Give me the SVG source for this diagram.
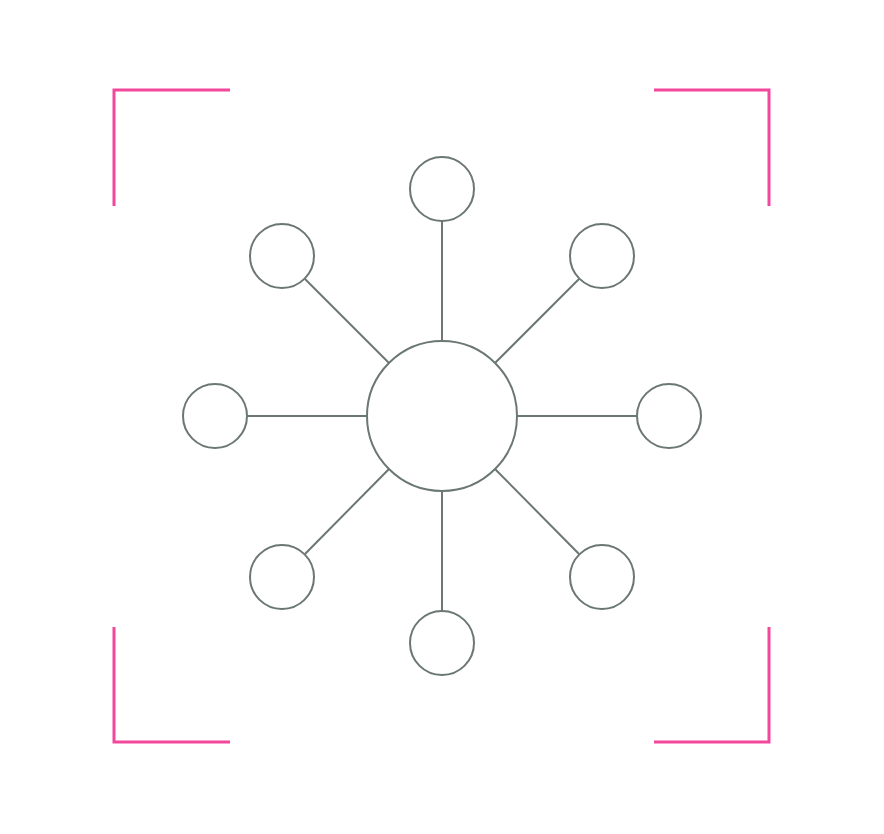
<svg xmlns="http://www.w3.org/2000/svg" width="884" height="834" viewBox="0 0 884 834">
<style>
.n{fill:#fff;stroke:#6b7773;stroke-width:2}
.e{stroke:#6b7773;stroke-width:2;fill:none}
.c{stroke:#f2479b;stroke-width:3;fill:none}
</style>
<rect width="884" height="834" fill="#fff"/>
<g id="corners">
<path class="c" d="M114,206V90H230"/>
<path class="c" d="M654,90H769V206"/>
<path class="c" d="M114,627V742H230"/>
<path class="c" d="M654,742H769V627"/>
</g>
<g id="connectors">
<line class="e" x1="442" y1="221" x2="442" y2="341"/>
<line class="e" x1="442" y1="491" x2="442" y2="611"/>
<line class="e" x1="247" y1="416" x2="367" y2="416"/>
<line class="e" x1="517" y1="416" x2="637" y2="416"/>
<line class="e" x1="305" y1="279" x2="389" y2="363"/>
<line class="e" x1="579" y1="279" x2="495" y2="363"/>
<line class="e" x1="305" y1="554" x2="389" y2="469"/>
<line class="e" x1="579" y1="554" x2="495" y2="469"/>
</g>
<g id="hub"><circle class="n" cx="442" cy="416" r="75"/></g>
<g id="n-top"><circle class="n" cx="442" cy="189" r="32"/></g>
<g id="n-bottom"><circle class="n" cx="442" cy="643" r="32"/></g>
<g id="n-left"><circle class="n" cx="215" cy="416" r="32"/></g>
<g id="n-right"><circle class="n" cx="669" cy="416" r="32"/></g>
<g id="n-tl"><circle class="n" cx="282" cy="256" r="32"/></g>
<g id="n-tr"><circle class="n" cx="602" cy="256" r="32"/></g>
<g id="n-bl"><circle class="n" cx="282" cy="577" r="32"/></g>
<g id="n-br"><circle class="n" cx="602" cy="577" r="32"/></g>
</svg>
